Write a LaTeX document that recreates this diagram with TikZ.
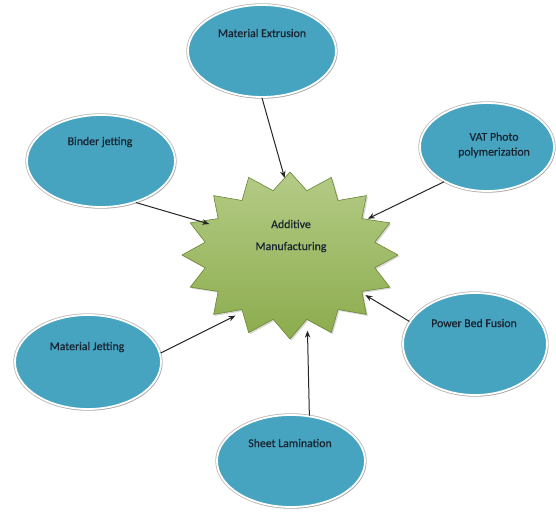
\documentclass[tikz,border=0pt]{standalone}
\usepackage{fontspec}
\setmainfont{Carlito}[FakeBold=0.6]
\usetikzlibrary{shapes.geometric,shadows,arrows.meta,calc}
\definecolor{bubblefill}{HTML}{46A4C1}
\definecolor{startop}{HTML}{B4CB86}
\definecolor{starbot}{HTML}{8CAC4D}
\definecolor{staredge}{HTML}{6E8A3A}
\definecolor{txt}{HTML}{1A2430}
\begin{document}
\begin{tikzpicture}[x=1pt,y=-1pt,
  bubble/.style={ellipse, inner sep=0pt, fill=bubblefill, draw=white, line width=1.8pt,
    preaction={draw=gray!55, line width=3.4pt},
    drop shadow={shadow xshift=1.2pt, shadow yshift=-1.5pt, opacity=0.35, fill=gray}},
  lbl/.style={font=\fontsize{11.8}{15}\selectfont, text=txt, align=center, inner sep=0pt},
  hub/.style={ellipse, minimum width=176pt, minimum height=154pt, inner sep=0pt},
  conn/.style={-{Stealth[length=7pt,width=5.5pt]}, line width=1pt, draw=black!85}]
\fill[white] (0,0) rectangle (556,512);
\useasboundingbox (0,0) rectangle (556,512);
% star
\path[fill=starbot, top color=startop, bottom color=starbot, draw=staredge, line width=0.6pt,
      drop shadow={shadow xshift=1.5pt, shadow yshift=-1.5pt, opacity=0.3, fill=gray}]
  (290,172) \foreach \i in {1,...,31}{
     -- ({290+ifthenelse(isodd(\i),0.80,1)*108*cos(90+\i*11.25)},
         {255-ifthenelse(isodd(\i),0.78,1)*84*sin(90+\i*11.25)}) } -- cycle;
\node[hub] (am) at (290,255) {};
\node[lbl, font=\fontsize{11.8}{22}\selectfont] (amt) at (291,236) {Additive\\Manufacturing};
% bubbles
\node[bubble, minimum width=148pt, minimum height=92pt] (me) at (262,51) {};
\node[lbl] (met) at (262,33) {Material Extrusion};
\node[bubble, minimum width=148pt, minimum height=92pt] (bj) at (101,161) {};
\node[lbl] (bjt) at (100,142) {Binder jetting};
\node[bubble, minimum width=134pt, minimum height=88pt] (vat) at (487,147) {};
\node[lbl] (vatt) at (494,145) {VAT Photo\\polymerization};
\node[bubble, minimum width=146pt, minimum height=94pt] (mj) at (88,362) {};
\node[lbl] (mjt) at (87,347) {Material Jetting};
\node[bubble, minimum width=144pt, minimum height=102pt] (pbf) at (475,344) {};
\node[lbl] (pbft) at (474,323) {Power Bed Fusion};
\node[bubble, minimum width=148pt, minimum height=92pt] (sl) at (291,461) {};
\node[lbl] (slt) at (290,443) {Sheet Lamination};
% connectors
\draw[conn] (me.-90) -- (am.94);
\draw[conn] (bj.-50) -- (am.159);
\draw[conn] (vat.219) -- (am.25);
\draw[conn] (pbf.161) -- (am.-28);
\draw[conn] (sl.68) -- (am.-77);
\draw[conn] (mj.7) -- (am.228);
\end{tikzpicture}
\end{document}
